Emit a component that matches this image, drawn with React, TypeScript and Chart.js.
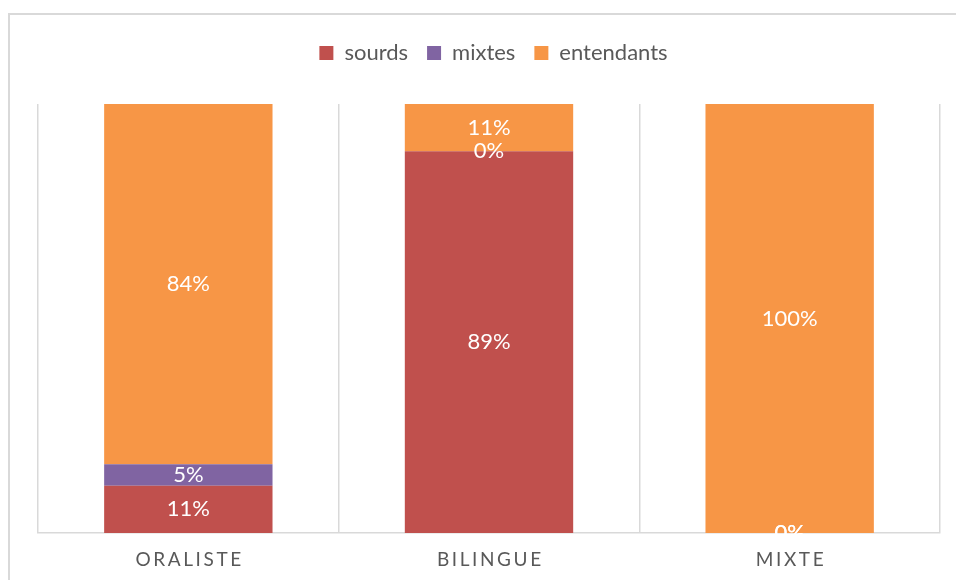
import React, { useEffect, useRef } from 'react';
import { Chart, registerables } from 'chart.js';

Chart.register(...registerables);

const categories = ['ORALISTE', 'BILINGUE', 'MIXTE'];
const seriesNames = ['sourds', 'mixtes', 'entendants'];
const sourds = [11, 89, 0];
const mixtes = [5, 0, 0];
const entendants = [84, 11, 100];
const seriesColors = ['#C0504D', '#8064A2', '#F79646'];

const FONT = 'Lato';
const TEXT_GRAY = '#595959';
const GRID_GRAY = '#D9D9D9';

export default function App() {
  const ref = useRef<HTMLCanvasElement | null>(null);

  useEffect(() => {
    if (!ref.current) return;

    const valueLabels = {
      id: 'valueLabels',
      afterDatasetsDraw(chart: any) {
        const ctx = chart.ctx;
        ctx.save();
        ctx.fillStyle = '#FFFFFF';
        ctx.font = `22px ${FONT}`;
        ctx.textAlign = 'center';
        ctx.textBaseline = 'middle';
        chart.data.datasets.forEach((ds: any, di: number) => {
          const meta = chart.getDatasetMeta(di);
          meta.data.forEach((bar: any, i: number) => {
            const p = bar.getProps(['x', 'y', 'base'], true);
            ctx.fillText(`${ds.data[i]}%`, p.x, (p.y + p.base) / 2);
          });
        });
        ctx.restore();
      },
    };

    const spacedAxisLabels = {
      id: 'spacedAxisLabels',
      afterDraw(chart: any) {
        const ctx = chart.ctx;
        const xs = chart.scales.x;
        const spacing = 2.6;
        ctx.save();
        ctx.fillStyle = TEXT_GRAY;
        ctx.font = `19px ${FONT}`;
        (ctx as any).letterSpacing = `${spacing}px`;
        ctx.textAlign = 'center';
        ctx.textBaseline = 'middle';
        const y = chart.chartArea.bottom + 27;
        categories.forEach((c, i) => {
          ctx.fillText(c, xs.getPixelForValue(i) + spacing / 2, y);
        });
        ctx.restore();
      },
    };

    const chart = new Chart(ref.current, {
      type: 'bar',
      data: {
        labels: categories,
        datasets: [
          { label: seriesNames[0], data: sourds, backgroundColor: seriesColors[0], borderWidth: 0 },
          { label: seriesNames[1], data: mixtes, backgroundColor: seriesColors[1], borderWidth: 0 },
          { label: seriesNames[2], data: entendants, backgroundColor: seriesColors[2], borderWidth: 0 },
        ],
      },
      options: {
        responsive: false,
        animation: false,
        layout: { padding: { left: 38, right: 7, top: 23, bottom: 47 } },
        datasets: { bar: { categoryPercentage: 1, barPercentage: 0.56 } },
        scales: {
          x: {
            stacked: true,
            offset: true,
            grid: { offset: true, color: GRID_GRAY, lineWidth: 1.5, drawTicks: false },
            border: { color: GRID_GRAY, width: 1.5 },
            ticks: { display: false },
          },
          y: {
            stacked: true,
            min: 0,
            max: 100,
            position: 'right',
            grid: { display: false },
            border: { display: false },
            ticks: { display: false },
            afterFit: (s: any) => {
              s.width = 9;
            },
          },
        },
        plugins: {
          legend: {
            position: 'top',
            labels: {
              boxWidth: 14,
              boxHeight: 14,
              padding: 19,
              color: TEXT_GRAY,
              font: { family: FONT, size: 22 },
            },
          },
          title: {
            display: true,
            text: ' ',
            weight: 500,
            padding: { top: 0, bottom: 10 },
            font: { size: 20, lineHeight: 1 },
          },
          tooltip: { enabled: false },
        },
      },
      plugins: [valueLabels, spacedAxisLabels],
    } as any);

    return () => chart.destroy();
  }, []);

  return (
    <div style={{ position: 'fixed', left: 0, top: 0, width: 956, height: 580, overflow: 'hidden', background: '#FFFFFF' }}>
      <div
        style={{
          position: 'absolute',
          left: 8,
          top: 13,
          width: 1000,
          height: 1000,
          borderLeft: `2px solid ${GRID_GRAY}`,
          borderTop: `2px solid ${GRID_GRAY}`,
        }}
      />
      <canvas
        ref={ref}
        width={956}
        height={580}
        style={{ position: 'absolute', left: 0, top: 0, width: 956, height: 580 }}
      />
    </div>
  );
}
